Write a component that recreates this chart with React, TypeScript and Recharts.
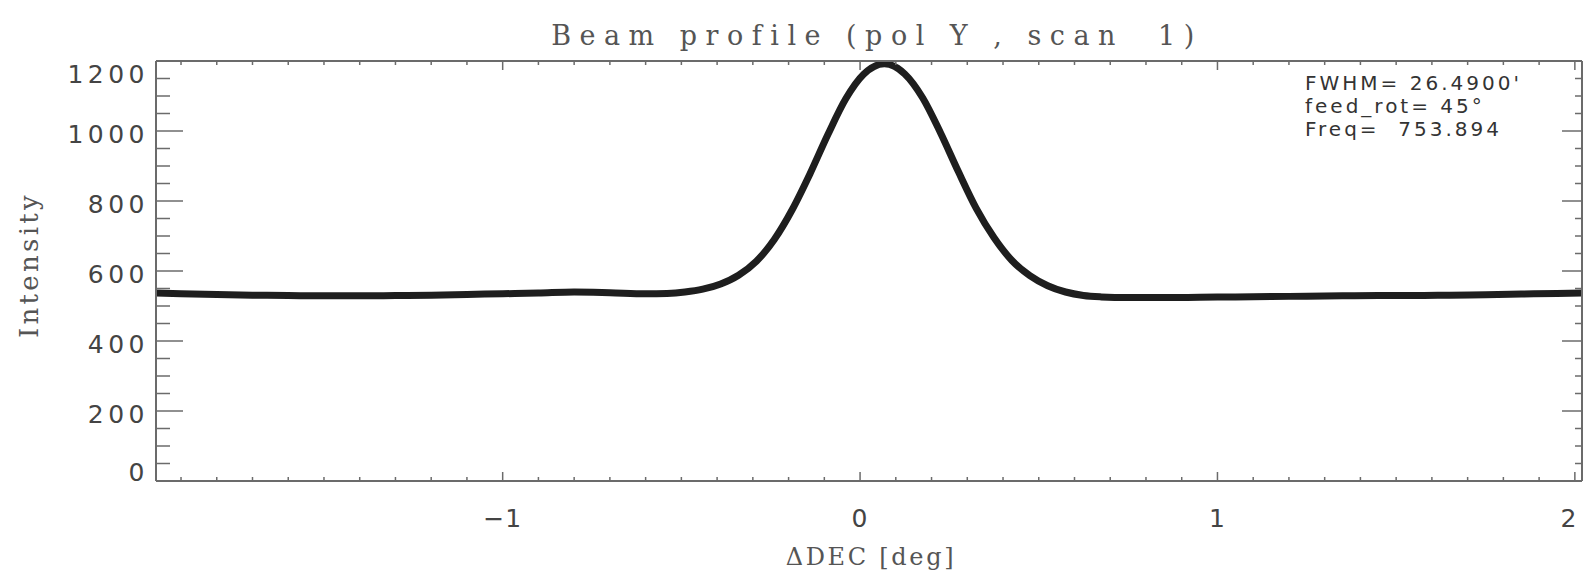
import React from 'react';
import { LineChart, Line, XAxis, YAxis } from 'recharts';

// beam scan
const decDeg = [
  -1.97, -1.9, -1.8, -1.7, -1.6, -1.5, -1.4, -1.3, -1.2, -1.1, -1.0, -0.9, -0.8, -0.7, -0.6,
  -0.54, -0.49, -0.44, -0.39, -0.34, -0.29, -0.24, -0.19, -0.14, -0.09, -0.04, 0.01, 0.068,
  0.125, 0.175, 0.225, 0.275, 0.325, 0.375, 0.425, 0.475, 0.525, 0.575, 0.625, 0.675,
  0.75, 0.85, 0.95, 1.05, 1.15, 1.25, 1.35, 1.45, 1.55, 1.65, 1.75, 1.85, 1.95, 2.02,
];
const intensity = [
  537, 535, 533, 531, 530, 529, 529, 530, 531, 533, 535, 537, 540, 538, 535,
  536, 540, 548, 563, 588, 628, 690, 775, 878, 990, 1092, 1162, 1192,
  1163, 1095, 995, 884, 779, 695, 630, 587, 558, 540, 530, 526,
  524, 524, 525, 526, 527, 528, 529, 530, 530, 531, 532, 534, 536, 537,
];

const xMajorTicks = [-1, 0, 1, 2];
const xTickLabels = ['\u22121', '0', '1', '2'];
const yMajorTicks = [0, 200, 400, 600, 800, 1000, 1200];
const yTickLabels = ['0', '200', '400', '600', '800', '1000', '1200'];
const notes = ["FWHM= 26.4900'", 'feed_rot= 45\u00b0', 'Freq=  753.894'];

const data = decDeg.map((x, i) => ({ x, y: intensity[i] }));

const xTicks: number[] = [];
for (let i = -19; i <= 20; i++) xTicks.push(i / 10);
const yTicks: number[] = [];
for (let v = 0; v <= 1200; v += 50) yTicks.push(v);

const AXIS = '#6b6b6b';
const TXT = '#444';
const NUM_FONT = { fontFamily: 'DejaVu Sans', fontSize: 25, fill: TXT };

const majorIdx = (list: number[], v: number) => list.findIndex((m) => Math.abs(m - v) < 1e-6);

function BottomTick({ x, y, payload }: any) {
  const i = majorIdx(xMajorTicks, payload.value);
  // last label sits on the right edge, keep it inside
  const tx = payload.value > 1.99 ? x - 6 : x;
  return (
    <g>
      <line x1={x} x2={x} y1={y} y2={y - (i >= 0 ? 9 : 4)} stroke={AXIS} strokeWidth={1.5} />
      {i >= 0 && (
        <text x={tx} y={y + 46} textAnchor='middle' letterSpacing={1} {...NUM_FONT}>{xTickLabels[i]}</text>
      )}
    </g>
  );
}

function TopTick({ x, y, payload }: any) {
  const i = majorIdx(xMajorTicks, payload.value);
  return <line x1={x} x2={x} y1={y} y2={y + (i >= 0 ? 9 : 4)} stroke={AXIS} strokeWidth={1.5} />;
}

function LeftTick({ x, y, payload }: any) {
  const v = payload.value;
  const i = majorIdx(yMajorTicks, v);
  // IDL nudges the end labels inward
  const dy = v === 1200 ? 22 : v === 0 ? 0 : 12;
  return (
    <g>
      <line x1={x} x2={x + (i >= 0 ? 27 : 14)} y1={y} y2={y} stroke={AXIS} strokeWidth={1.5} />
      {i >= 0 && (
        <text x={x - 7} y={y + dy} textAnchor='end' letterSpacing={4.5} {...NUM_FONT}>{yTickLabels[i]}</text>
      )}
    </g>
  );
}

function RightTick({ x, y, payload }: any) {
  const i = majorIdx(yMajorTicks, payload.value);
  return <line x1={x} x2={x - (i >= 0 ? 20 : 7)} y1={y} y2={y} stroke={AXIS} strokeWidth={1.5} />;
}

const serif = { fontFamily: 'DejaVu Serif', fill: '#555' };

export default function App() {
  const axisLine = { stroke: AXIS, strokeWidth: 2 };
  const common = { allowDataOverflow: true, interval: 0 as const, tickSize: 0, tickMargin: 0, tickLine: false, axisLine };
  return (
    <div style={{ position: 'absolute', left: 0, top: 0, width: 1585, height: 575, background: '#fff' }}>
      <LineChart width={1585} height={575} data={data} margin={{ top: 60, right: 2, bottom: 93, left: 155 }}>
        <XAxis xAxisId='bottom' dataKey='x' type='number' domain={[-1.97, 2.02]} ticks={xTicks} height={1} tick={<BottomTick />} {...common} />
        <XAxis xAxisId='top' orientation='top' dataKey='x' type='number' domain={[-1.97, 2.02]} ticks={xTicks} height={1} tick={<TopTick />} {...common} />
        <YAxis yAxisId='left' type='number' domain={[0, 1200]} ticks={yTicks} width={1} tick={<LeftTick />} {...common} />
        <YAxis yAxisId='right' orientation='right' type='number' domain={[0, 1200]} ticks={yTicks} width={1} tick={<RightTick />} {...common} />
        <Line
          xAxisId='bottom'
          yAxisId='left'
          dataKey='y'
          type='monotone'
          stroke='#1e1e1e'
          strokeWidth={7}
          dot={false}
          isAnimationActive={false}
        />
      </LineChart>
      <svg width={1585} height={575} style={{ position: 'absolute', left: 0, top: 0, pointerEvents: 'none' }}>
        <text x={877} y={45} textAnchor='middle' fontSize={27} letterSpacing={8.5} {...serif}>
          Beam profile (pol Y , scan{'\u00a0\u00a0'}1)
        </text>
        <text x={871} y={565} textAnchor='middle' fontSize={24} letterSpacing={2.7} {...serif}>
          ΔDEC [deg]
        </text>
        <text x={38} y={265} textAnchor='middle' fontSize={26} letterSpacing={3.3} transform='rotate(-90 38 265)' {...serif}>
          Intensity
        </text>
        {notes.map((n, i) => (
          <text key={n} x={1305} y={90 + i * 23} fontFamily='DejaVu Sans' fontSize={20} letterSpacing={3} fill='#333' style={{ whiteSpace: 'pre' }}>
            {n}
          </text>
        ))}
      </svg>
    </div>
  );
}
